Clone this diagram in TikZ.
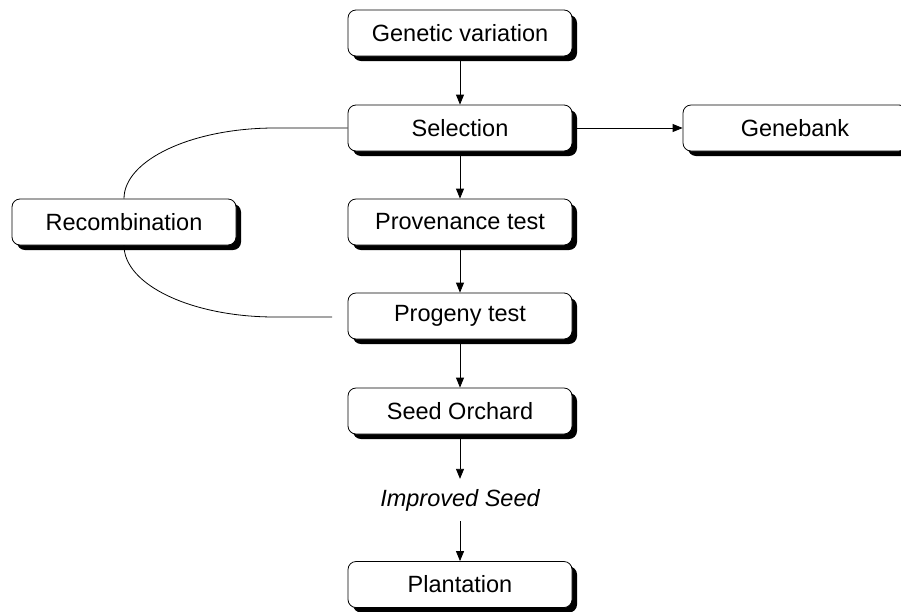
\documentclass[tikz,border=0pt]{standalone}
\usepackage{fontspec}
\setmainfont{Liberation Sans}
\usetikzlibrary{shadows,arrows.meta}
\begin{document}
\begin{tikzpicture}[x=1pt,y=-1pt,
  stepbox/.style={draw=black, line width=0.8pt, fill=white, rounded corners=8pt,
    minimum width=224pt, minimum height=46pt, inner sep=0pt,
    font=\fontsize{23.5}{28}\selectfont,
    drop shadow={shadow xshift=5pt, shadow yshift=-5pt, fill=black, opacity=1}},
  lbl/.style={font=\fontsize{23.5}{28}\selectfont\itshape, inner sep=0pt},
  arr/.style={line width=0.8pt, -{Triangle[length=10pt,width=8pt]}},
  con/.style={line width=0.8pt}]
\useasboundingbox (0,0) rectangle (901,611);
\node[stepbox] (gen) at (460,33) {Genetic variation};
\node[stepbox] (sel) at (460,128) {Selection};
\node[stepbox] (prov) at (460,222) {Provenance test};
\node[stepbox] (prog) at (460,316) {Progeny test};
\node[stepbox] (seed) at (460,411) {Seed Orchard};
\node[lbl] (imp) at (460,500) {Improved Seed};
\node[stepbox] (plan) at (460,584.5) {Plantation};
\node[stepbox] (rec) at (124,222) {Recombination};
\node[stepbox] (bank) at (795,128) {Genebank};
\draw[arr, shorten <=5pt] (gen.south) -- (sel.north);
\draw[arr, shorten <=5pt] (sel.south) -- (prov.north);
\draw[arr, shorten <=5pt] (prov.south) -- (prog.north);
\draw[arr, shorten <=5pt] (prog.south) -- (seed.north);
\draw[arr, shorten <=5pt, shorten >=10pt] (seed.south) -- (imp.north);
\draw[arr, shorten <=10pt] (imp.south) -- (plan.north);
\draw[arr, shorten <=5pt] (sel.east) -- (bank.west);
\coordinate (topbend) at (275,128);
\coordinate (botbend) at (275,317);
\coordinate (botend) at (332,317);
\draw[con] (sel.west) -- (topbend) .. controls (192,128) and (124,160) .. (rec.north);
\draw[con] (rec.south) .. controls (124,285) and (192,317) .. (botbend) -- (botend);
\end{tikzpicture}
\end{document}
